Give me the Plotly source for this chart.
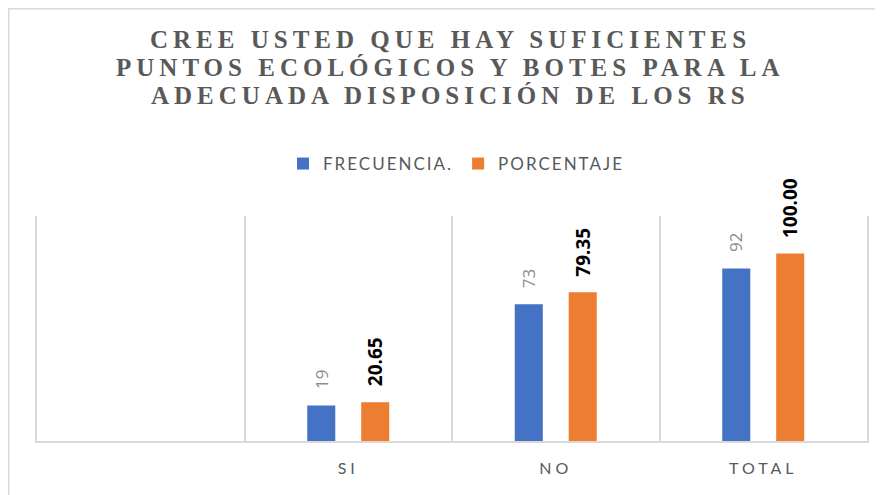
import plotly.graph_objects as go

# ---- data ----
categories = [" ", "SI", "NO", "TOTAL"]
tick_labels = ["", "SI", "NO", "TOTAL"]
frecuencia = [None, 19, 73, 92]
porcentaje = [None, 20.65, 79.35, 100.00]
series_names = ["FRECUENCIA.", "PORCENTAJE"]
title_lines = ["CREE USTED QUE HAY SUFICIENTES",
               "PUNTOS ECOLÓGICOS Y BOTES PARA LA",
               "ADECUADA DISPOSICIÓN DE LOS RS"]

BLUE = "#4472C4"
ORANGE = "#ED7D31"
GRID = "#D9D9D9"
TXT = "#595959"


def spaced(s, px):
    return f'<span style="letter-spacing:{px}px">{s}</span>'


def label_len(s, size):
    # approximate rendered length of a rotated numeric label (Open Sans)
    return sum((0.27 if ch == "." else 0.572) * size for ch in s)


fig = go.Figure()
fig.add_trace(go.Bar(name=spaced(series_names[0], 2), x=categories, y=frecuencia,
                     marker=dict(color=BLUE, line=dict(width=0))))
fig.add_trace(go.Bar(name=spaced(series_names[1], 2), x=categories, y=porcentaje,
                     marker=dict(color=ORANGE, line=dict(width=0))))

GAP = 16
# data labels (rotated, above bars)
for c, v in zip(categories, frecuencia):
    if v is None:
        continue
    s = f"{v:d}"
    fig.add_annotation(x=c, y=v, xref="x", yref="y", text=s, showarrow=False,
                       textangle=-90, yanchor="middle", xanchor="center",
                       xshift=-27, yshift=GAP + label_len(s, 17) / 2,
                       font=dict(family="Open Sans", size=17, color="#8C8C8C"))
for c, v in zip(categories, porcentaje):
    if v is None:
        continue
    s = f"{v:.2f}"
    fig.add_annotation(x=c, y=v, xref="x", yref="y", text=f"<b>{s}</b>", showarrow=False,
                       textangle=-90, yanchor="middle", xanchor="center",
                       xshift=27, yshift=GAP + label_len(s, 19) / 2,
                       font=dict(family="Open Sans", size=19, color="#000000"))

# title (three centred lines)
for line, yy in zip(title_lines, [1.7844, 1.6622, 1.5369]):
    fig.add_annotation(x=0.4976, y=yy, xref="paper", yref="paper", text=spaced(line, 5),
                       showarrow=False, xanchor="center", yanchor="middle",
                       font=dict(family="Liberation Serif", size=25, color=TXT, weight=700))

# outer chart border
fig.add_shape(type="rect", xref="paper", yref="paper",
              x0=-0.0340, x1=1.2, y0=-0.5, y1=1.921,
              line=dict(color=GRID, width=1.5), fillcolor="rgba(0,0,0,0)", layer="below")

fig.update_layout(
    width=883, height=495,
    margin=dict(l=29, r=24, t=208, b=62),
    paper_bgcolor="white", plot_bgcolor="white",
    barmode="group", bargap=0.48, bargroupgap=0.48,
    legend=dict(orientation="h", x=0.5048, xanchor="center", y=1.2311, yanchor="middle",
                font=dict(family="Lato", size=17, color=TXT), traceorder="normal",
                itemwidth=30),
    showlegend=True,
    xaxis=dict(type="category", tickmode="array", tickvals=categories,
               ticktext=[spaced(t, 4) for t in tick_labels],
               tickson="boundaries", showgrid=True, gridcolor=GRID, gridwidth=1.5,
               ticks="", showline=True, linecolor=GRID, linewidth=1.5,
               tickfont=dict(family="Lato", size=16, color=TXT),
               ticklabelstandoff=12, range=[-0.5, 3.5]),
    yaxis=dict(range=[0, 120], showgrid=False, zeroline=False, showticklabels=False,
               ticks="", showline=True, mirror=True, linecolor=GRID, linewidth=1.5),
)

fig.write_html("out.html")
